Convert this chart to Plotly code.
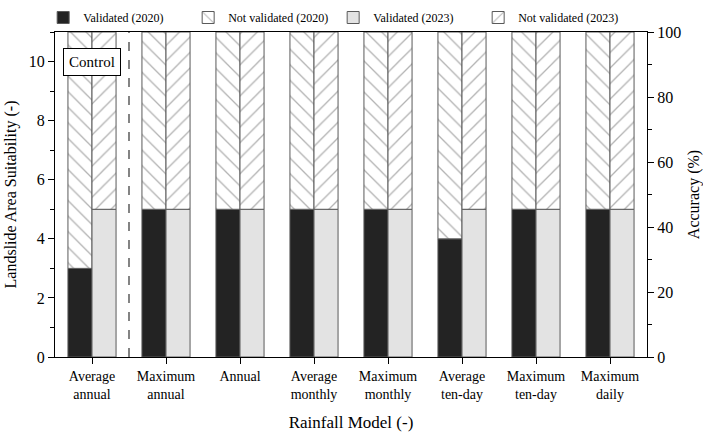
import plotly.graph_objects as go

categories = ["Average<br>annual", "Maximum<br>annual", "Annual", "Average<br>monthly",
              "Maximum<br>monthly", "Average<br>ten-day", "Maximum<br>ten-day", "Maximum<br>daily"]
validated_2020 = [3, 5, 5, 5, 5, 4, 5, 5]
not_validated_2020 = [8, 6, 6, 6, 6, 7, 6, 6]
validated_2023 = [5, 5, 5, 5, 5, 5, 5, 5]
not_validated_2023 = [6, 6, 6, 6, 6, 6, 6, 6]
left_ticks = [0, 2, 4, 6, 8, 10]
right_ticks = [0, 20, 40, 60, 80, 100]

FONT = "Liberation Serif"
EDGE = "#5a5a5a"

fig = go.Figure()
fig.add_trace(go.Bar(x=categories, y=validated_2020, name="Validated (2020)", offsetgroup="a",
                     marker=dict(color="#232323", line=dict(color=EDGE, width=1))))
fig.add_trace(go.Bar(x=categories, y=not_validated_2020, base=validated_2020, name="Not validated (2020)",
                     offsetgroup="a",
                     marker=dict(color="white", line=dict(color=EDGE, width=1),
                                 pattern=dict(shape="\\", fgcolor="#666666", bgcolor="white",
                                              size=11, solidity=0.12))))
fig.add_trace(go.Bar(x=categories, y=validated_2023, name="Validated (2023)", offsetgroup="b",
                     marker=dict(color="#e3e3e3", line=dict(color=EDGE, width=1))))
fig.add_trace(go.Bar(x=categories, y=not_validated_2023, base=validated_2023, name="Not validated (2023)",
                     offsetgroup="b",
                     marker=dict(color="white", line=dict(color=EDGE, width=1),
                                 pattern=dict(shape="/", fgcolor="#666666", bgcolor="white",
                                              size=11, solidity=0.12))))
# invisible trace to activate the right axis
fig.add_trace(go.Scatter(x=[categories[0]], y=[0], yaxis="y2", mode="markers",
                         marker=dict(opacity=0), showlegend=False, hoverinfo="skip"))

fig.add_shape(type="line", xref="x", yref="paper", x0=0.5, x1=0.5, y0=0, y1=1,
              line=dict(color="#333333", width=1.2, dash="dash"))
fig.add_annotation(x=0, y=10, xref="x", yref="y", text="Control", showarrow=False,
                   font=dict(family=FONT, size=15, color="black"),
                   bordercolor="black", borderwidth=1, borderpad=5, bgcolor="white")

fig.update_layout(
    width=703, height=432,
    margin=dict(l=55, r=56, t=32, b=75, autoexpand=False),
    barmode="group", bargap=0.35, bargroupgap=0,
    plot_bgcolor="white", paper_bgcolor="white",
    font=dict(family=FONT, color="black"),
    legend=dict(orientation="h", x=-0.02, y=1.0, xanchor="left", yanchor="bottom",
                font=dict(family=FONT, size=12), bgcolor="rgba(0,0,0,0)",
                entrywidth=100, entrywidthmode="pixels", traceorder="normal"),
    xaxis=dict(title=dict(text="Rainfall Model (-)", font=dict(size=17), standoff=20),
               showline=True, linecolor="black", linewidth=1.2, mirror=True,
               ticks="outside", ticklen=6, tickcolor="black", tickfont=dict(size=14),
               range=[-0.5, 7.5],
               minor=dict(ticks="outside", ticklen=4, tickcolor="black", tick0=0.5, dtick=1),
               showgrid=False),
    yaxis=dict(title=dict(text="Landslide Area Suitability (-)", font=dict(size=16), standoff=8),
               range=[0, 11], tickvals=left_ticks, showline=True, linecolor="black", linewidth=1.2,
               ticks="outside", ticklen=6, tickcolor="black", tickfont=dict(size=16),
               minor=dict(ticks="outside", ticklen=4, tickcolor="black", tick0=1, dtick=2),
               showgrid=False, zeroline=False),
    yaxis2=dict(title=dict(text="Accuracy (%)", font=dict(size=16), standoff=8),
                overlaying="y", side="right", range=[0, 100], tickvals=right_ticks,
                showline=True, linecolor="black", linewidth=1.2,
                ticks="outside", ticklen=6, tickcolor="black", tickfont=dict(size=16),
                minor=dict(ticks="outside", ticklen=4, tickcolor="black", tick0=10, dtick=20),
                showgrid=False, zeroline=False),
)

fig.write_html("out.html")
